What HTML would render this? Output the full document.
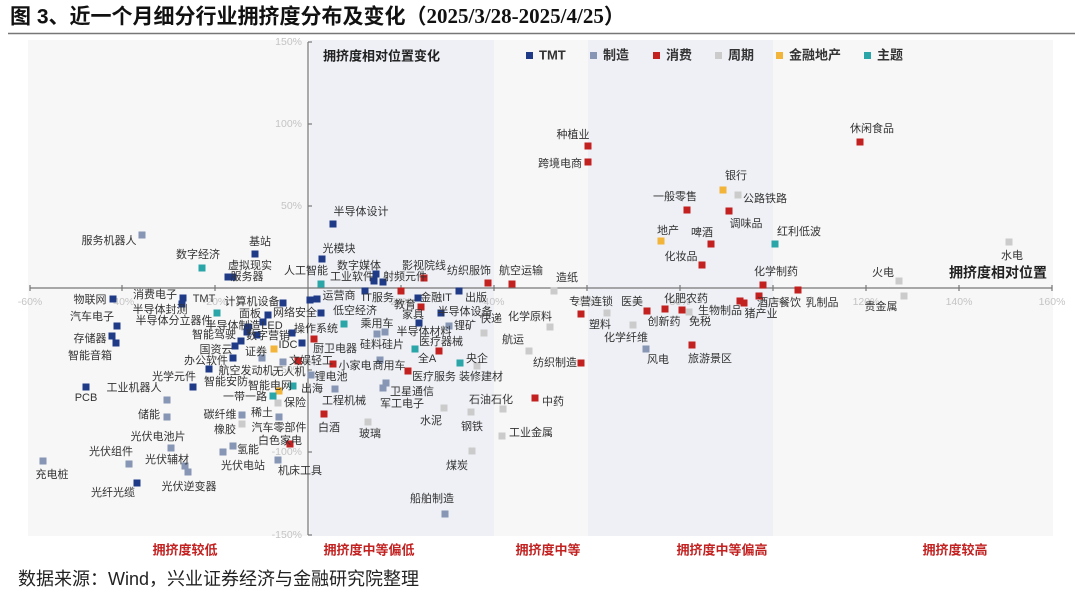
<!DOCTYPE html>
<html><head><meta charset="utf-8"><style>
html,body{margin:0;padding:0;background:#fff;width:1080px;height:599px;overflow:hidden}
svg{display:block;font-family:"Liberation Sans","Noto Sans CJK SC",sans-serif}
.l{font-size:11px;fill:#333;text-anchor:middle;dominant-baseline:middle}
.t{font-size:10.5px;fill:#c4c4c4;dominant-baseline:middle}
.a{fill:#1f3a86}.b{fill:#8696b4}.c{fill:#c32020}.d{fill:#cbcbcb}.e{fill:#f2b53a}.f{fill:#2aa5a8}
.r{font-size:13px;font-weight:bold;fill:#c32020;text-anchor:middle;dominant-baseline:middle}
</style></head><body>
<svg width="1080" height="599" viewBox="0 0 1080 599">
<text x="10" y="18" font-size="21" font-weight="bold" fill="#111" dominant-baseline="middle">图 3、近一个月细分行业拥挤度分布及变化（<tspan font-family="Liberation Serif">2025/3/28-2025/4/25</tspan>）</text>
<line x1="8" y1="33.5" x2="1075" y2="33.5" stroke="#777" stroke-width="1.5"/>
<rect x="28" y="40" width="1025" height="496" fill="#f7f7f8"/>
<rect x="310" y="40" width="184" height="496" fill="#eef0f5"/>
<rect x="588" y="40" width="185" height="496" fill="#eef0f5"/>
<g stroke="#777" stroke-width="1.2">
<line x1="30" y1="288" x2="1052" y2="288"/>
<line x1="308" y1="42" x2="308" y2="535"/>
<line x1="30" y1="285" x2="30" y2="291"/><line x1="122" y1="285" x2="122" y2="291"/><line x1="215" y1="285" x2="215" y2="291"/><line x1="401" y1="285" x2="401" y2="291"/><line x1="494" y1="285" x2="494" y2="291"/><line x1="587" y1="285" x2="587" y2="291"/><line x1="680" y1="285" x2="680" y2="291"/><line x1="773" y1="285" x2="773" y2="291"/><line x1="866" y1="285" x2="866" y2="291"/><line x1="959" y1="285" x2="959" y2="291"/><line x1="1052" y1="285" x2="1052" y2="291"/>
<line x1="308" y1="42" x2="312" y2="42"/><line x1="308" y1="124" x2="312" y2="124"/><line x1="308" y1="206" x2="312" y2="206"/><line x1="308" y1="370" x2="312" y2="370"/><line x1="308" y1="452" x2="312" y2="452"/><line x1="308" y1="535" x2="312" y2="535"/>
</g>
<g class="t" text-anchor="middle">
<text x="30" y="302">-60%</text><text x="122" y="302">-40%</text><text x="215" y="302">-20%</text><text x="401" y="302">20%</text><text x="494" y="302">40%</text><text x="587" y="302">60%</text><text x="680" y="302">80%</text><text x="773" y="302">100%</text><text x="866" y="302">120%</text><text x="959" y="302">140%</text><text x="1052" y="302">160%</text>
</g>
<g class="t" text-anchor="end">
<text x="302" y="42">150%</text><text x="302" y="124">100%</text><text x="302" y="206">50%</text><text x="302" y="370">-50%</text><text x="302" y="452">-100%</text><text x="302" y="535">-150%</text>
</g>
<text x="323" y="57" font-size="13" font-weight="bold" fill="#222" dominant-baseline="middle">拥挤度相对位置变化</text>
<text x="998" y="274" font-size="14" font-weight="bold" fill="#222" text-anchor="middle" dominant-baseline="middle">拥挤度相对位置</text>
<g font-size="13" font-weight="bold" fill="#333" dominant-baseline="middle">
<rect class="a" x="526" y="52" width="7" height="7"/><text x="539" y="56">TMT</text>
<rect class="b" x="590" y="52" width="7" height="7"/><text x="603" y="56">制造</text>
<rect class="c" x="653" y="52" width="7" height="7"/><text x="666" y="56">消费</text>
<rect class="d" x="715" y="52" width="7" height="7"/><text x="728" y="56">周期</text>
<rect class="e" x="776" y="52" width="7" height="7"/><text x="789" y="56">金融地产</text>
<rect class="f" x="864" y="52" width="7" height="7"/><text x="877" y="56">主题</text>
</g>
<g transform="translate(-3.5,-3.5)">
<g class="a">
<rect x="113" y="299" width="7" height="7"/><rect x="117" y="326" width="7" height="7"/><rect x="112" y="336" width="7" height="7"/><rect x="116" y="343" width="7" height="7"/><rect x="86" y="387" width="7" height="7"/><rect x="137" y="483" width="7" height="7"/><rect x="183" y="298" width="7" height="7"/><rect x="182" y="304" width="7" height="7"/><rect x="283" y="303" width="7" height="7"/><rect x="268" y="315" width="7" height="7"/><rect x="263" y="322" width="7" height="7"/><rect x="248" y="327" width="7" height="7"/><rect x="247" y="332" width="7" height="7"/><rect x="257" y="335" width="7" height="7"/><rect x="241" y="341" width="7" height="7"/><rect x="235" y="346" width="7" height="7"/><rect x="292" y="333" width="7" height="7"/><rect x="302" y="343" width="7" height="7"/><rect x="233" y="358" width="7" height="7"/><rect x="209" y="369" width="7" height="7"/><rect x="193" y="387" width="7" height="7"/>
<rect x="333" y="224" width="7" height="7"/><rect x="322" y="259" width="7" height="7"/><rect x="376" y="274" width="7" height="7"/><rect x="374" y="281" width="7" height="7"/><rect x="383" y="282" width="7" height="7"/><rect x="365" y="291" width="7" height="7"/><rect x="317" y="299" width="7" height="7"/><rect x="321" y="313" width="7" height="7"/><rect x="418" y="298" width="7" height="7"/><rect x="459" y="291" width="7" height="7"/><rect x="441" y="313" width="7" height="7"/><rect x="419" y="323" width="7" height="7"/><rect x="255" y="254" width="7" height="7"/><rect x="228" y="277" width="7" height="7"/><rect x="233" y="277" width="7" height="7"/><rect x="310" y="300" width="7" height="7"/>
</g>
<g class="b">
<rect x="142" y="235" width="7" height="7"/><rect x="167" y="400" width="7" height="7"/><rect x="167" y="417" width="7" height="7"/><rect x="242" y="415" width="7" height="7"/><rect x="279" y="417" width="7" height="7"/><rect x="262" y="358" width="7" height="7"/><rect x="283" y="362" width="7" height="7"/><rect x="311" y="375" width="7" height="7"/><rect x="171" y="448" width="7" height="7"/><rect x="233" y="446" width="7" height="7"/><rect x="223" y="452" width="7" height="7"/><rect x="185" y="466" width="7" height="7"/><rect x="188" y="472" width="7" height="7"/><rect x="129" y="464" width="7" height="7"/><rect x="43" y="461" width="7" height="7"/><rect x="278" y="460" width="7" height="7"/>
<rect x="377" y="334" width="7" height="7"/><rect x="385" y="332" width="7" height="7"/><rect x="449" y="326" width="7" height="7"/><rect x="380" y="360" width="7" height="7"/><rect x="335" y="389" width="7" height="7"/><rect x="386" y="383" width="7" height="7"/><rect x="383" y="388" width="7" height="7"/><rect x="445" y="514" width="7" height="7"/><rect x="646" y="349" width="7" height="7"/>
</g>
<g class="d">
<rect x="242" y="424" width="7" height="7"/><rect x="278" y="403" width="7" height="7"/><rect x="484" y="333" width="7" height="7"/><rect x="529" y="351" width="7" height="7"/><rect x="477" y="366" width="7" height="7"/><rect x="444" y="408" width="7" height="7"/><rect x="471" y="412" width="7" height="7"/><rect x="503" y="409" width="7" height="7"/><rect x="368" y="422" width="7" height="7"/><rect x="472" y="451" width="7" height="7"/><rect x="502" y="436" width="7" height="7"/><rect x="554" y="291" width="7" height="7"/><rect x="550" y="327" width="7" height="7"/><rect x="633" y="325" width="7" height="7"/><rect x="607" y="313" width="7" height="7"/><rect x="689" y="312" width="7" height="7"/><rect x="738" y="195" width="7" height="7"/><rect x="899" y="281" width="7" height="7"/><rect x="904" y="296" width="7" height="7"/><rect x="1009" y="242" width="7" height="7"/>
</g>
<g class="c">
<rect x="314" y="339" width="7" height="7"/><rect x="298" y="361" width="7" height="7"/><rect x="290" y="444" width="7" height="7"/><rect x="424" y="278" width="7" height="7"/><rect x="401" y="291" width="7" height="7"/><rect x="488" y="283" width="7" height="7"/><rect x="512" y="284" width="7" height="7"/><rect x="421" y="307" width="7" height="7"/><rect x="439" y="351" width="7" height="7"/><rect x="333" y="364" width="7" height="7"/><rect x="408" y="371" width="7" height="7"/><rect x="535" y="398" width="7" height="7"/><rect x="324" y="414" width="7" height="7"/><rect x="581" y="363" width="7" height="7"/>
<rect x="588" y="146" width="7" height="7"/><rect x="588" y="162" width="7" height="7"/><rect x="687" y="210" width="7" height="7"/><rect x="729" y="211" width="7" height="7"/><rect x="711" y="244" width="7" height="7"/><rect x="702" y="265" width="7" height="7"/><rect x="763" y="285" width="7" height="7"/><rect x="581" y="314" width="7" height="7"/><rect x="647" y="311" width="7" height="7"/><rect x="665" y="309" width="7" height="7"/><rect x="682" y="310" width="7" height="7"/><rect x="740" y="301" width="7" height="7"/><rect x="744" y="303" width="7" height="7"/><rect x="759" y="296" width="7" height="7"/><rect x="798" y="290" width="7" height="7"/><rect x="692" y="345" width="7" height="7"/><rect x="860" y="142" width="7" height="7"/>
</g>
<g class="e"><rect x="274" y="349" width="7" height="7"/><rect x="279" y="391" width="7" height="7"/><rect x="723" y="190" width="7" height="7"/><rect x="661" y="241" width="7" height="7"/></g>
<g class="f"><rect x="217" y="313" width="7" height="7"/><rect x="293" y="386" width="7" height="7"/><rect x="273" y="396" width="7" height="7"/><rect x="202" y="268" width="7" height="7"/><rect x="321" y="284" width="7" height="7"/><rect x="344" y="324" width="7" height="7"/><rect x="415" y="349" width="7" height="7"/><rect x="460" y="363" width="7" height="7"/><rect x="775" y="244" width="7" height="7"/></g>
</g>
<g class="l">
<text x="109" y="241">服务机器人</text><text x="198" y="255">数字经济</text><text x="260" y="242">基站</text><text x="250" y="266">虚拟现实</text><text x="247" y="277">服务器</text><text x="306" y="271">人工智能</text>
<text x="90" y="300">物联网</text><text x="92" y="317">汽车电子</text><text x="90" y="339">存储器</text><text x="90" y="356">智能音箱</text><text x="86" y="398">PCB</text>
<text x="155" y="295">消费电子</text><text x="204" y="299">TMT</text><text x="160" y="310">半导体封测</text><text x="174" y="321">半导体分立器件</text>
<text x="252" y="302">计算机设备</text><text x="250" y="314">面板</text><text x="295" y="313">网络安全</text><text x="233" y="326">半导体制造</text><text x="272" y="326">LED</text>
<text x="214" y="335">智能驾驶</text><text x="268" y="336">数字营销</text><text x="316" y="329">操作系统</text><text x="216" y="350">国资云</text><text x="256" y="352">证券</text><text x="288" y="345">IDC</text>
<text x="206" y="361">办公软件</text><text x="311" y="361">文娱轻工</text><text x="246" y="371">航空发动机</text><text x="289" y="372">无人机</text><text x="226" y="382">智能安防</text><text x="270" y="386">智能电网</text><text x="312" y="389">出海</text>
<text x="174" y="377">光学元件</text><text x="134" y="388">工业机器人</text><text x="245" y="397">一带一路</text><text x="295" y="403">保险</text><text x="149" y="415">储能</text><text x="220" y="415">碳纤维</text><text x="262" y="413">稀土</text>
<text x="225" y="430">橡胶</text><text x="279" y="428">汽车零部件</text><text x="158" y="437">光伏电池片</text><text x="280" y="441">白色家电</text><text x="248" y="450">氢能</text><text x="111" y="452">光伏组件</text><text x="167" y="460">光伏辅材</text>
<text x="52" y="475">充电桩</text><text x="243" y="466">光伏电站</text><text x="300" y="471">机床工具</text><text x="113" y="493">光纤光缆</text><text x="189" y="487">光伏逆变器</text>
<text x="361" y="212">半导体设计</text><text x="339" y="249">光模块</text><text x="359" y="266">数字媒体</text><text x="352" y="277">工业软件</text><text x="405" y="277">射频元件</text><text x="424" y="266">影视院线</text><text x="469" y="271">纺织服饰</text><text x="521" y="271">航空运输</text>
<text x="339" y="296">运营商</text><text x="378" y="298">IT服务</text><text x="405" y="305">教育</text><text x="436" y="298">金融IT</text><text x="476" y="298">出版</text><text x="413" y="315">家具</text><text x="465" y="312">半导体设备</text><text x="355" y="311">低空经济</text><text x="491" y="319">快递</text>
<text x="377" y="324">乘用车</text><text x="465" y="326">锂矿</text><text x="424" y="332">半导体材料</text><text x="382" y="345">硅料硅片</text><text x="441" y="342">医疗器械</text><text x="335" y="349">厨卫电器</text><text x="427" y="359">全A</text><text x="477" y="359">央企</text>
<text x="355" y="366">小家电</text><text x="389" y="366">商用车</text><text x="331" y="377">锂电池</text><text x="434" y="377">医疗服务</text><text x="481" y="377">装修建材</text><text x="412" y="392">卫星通信</text><text x="344" y="401">工程机械</text><text x="402" y="404">军工电子</text><text x="491" y="400">石油石化</text>
<text x="513" y="340">航运</text><text x="530" y="317">化学原料</text><text x="555" y="363">纺织制造</text>
<text x="329" y="428">白酒</text><text x="370" y="434">玻璃</text><text x="431" y="421">水泥</text><text x="472" y="427">钢铁</text><text x="531" y="433">工业金属</text><text x="553" y="402">中药</text><text x="457" y="466">煤炭</text><text x="432" y="499">船舶制造</text>
<text x="573" y="135">种植业</text><text x="560" y="164">跨境电商</text><text x="736" y="176">银行</text><text x="765" y="199">公路铁路</text><text x="675" y="197">一般零售</text><text x="746" y="224">调味品</text><text x="668" y="231">地产</text><text x="702" y="233">啤酒</text><text x="799" y="232">红利低波</text><text x="681" y="257">化妆品</text><text x="776" y="272">化学制药</text>
<text x="567" y="278">造纸</text><text x="591" y="302">专营连锁</text><text x="632" y="302">医美</text><text x="686" y="299">化肥农药</text><text x="600" y="325">塑料</text><text x="664" y="322">创新药</text><text x="700" y="322">免税</text><text x="720" y="311">生物制品</text><text x="761" y="314">猪产业</text><text x="779" y="303">酒店餐饮</text><text x="822" y="303">乳制品</text>
<text x="626" y="338">化学纤维</text><text x="658" y="360">风电</text><text x="710" y="359">旅游景区</text>
<text x="872" y="129">休闲食品</text><text x="1012" y="256">水电</text><text x="883" y="273">火电</text><text x="881" y="307">贵金属</text>
</g>
<g>
<text class="r" x="185" y="551">拥挤度较低</text><text class="r" x="369" y="551">拥挤度中等偏低</text><text class="r" x="548" y="551">拥挤度中等</text><text class="r" x="722" y="551">拥挤度中等偏高</text><text class="r" x="955" y="551">拥挤度较高</text>
</g>
<text x="18" y="580" font-size="18" fill="#222" dominant-baseline="middle">数据来源：Wind，兴业证券经济与金融研究院整理</text>
</svg>
</body></html>
